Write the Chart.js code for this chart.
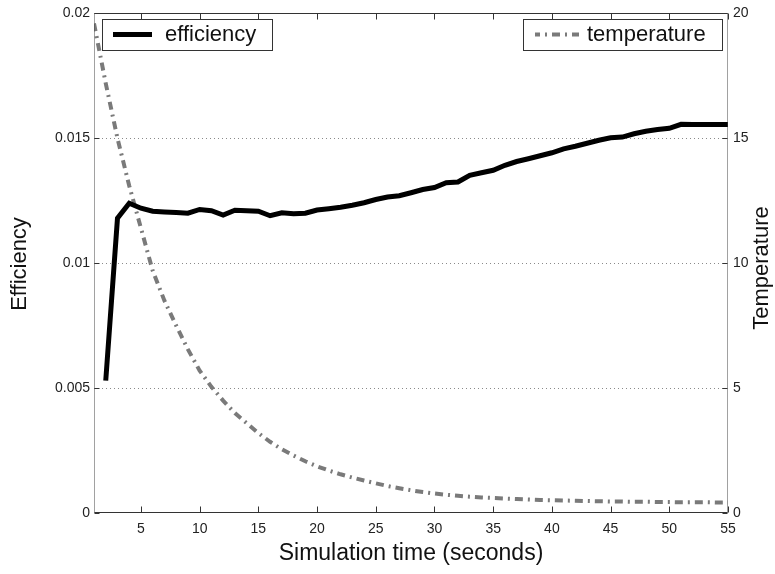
<!DOCTYPE html>
<html>
<head>
<meta charset="utf-8">
<script src="https://cdn.jsdelivr.net/npm/chart.js@4/dist/chart.umd.min.js"></script>
<style>
  html, body { margin: 0; padding: 0; background: #fff; }
  #wrap { width: 775px; height: 574px; position: relative; }
</style>
</head>
<body>
<div id="wrap"><canvas id="c" width="775" height="574"></canvas></div>
<script>
// Simulation time steps (seconds)
const efficiencyTime = [2,3,4,5,6,7,8,9,10,11,12,13,14,15,16,17,18,19,20,21,22,23,24,25,26,27,28,29,30,
  31,32,33,34,35,36,37,38,39,40,41,42,43,44,45,46,47,48,49,50,51,52,53,54,55];
const efficiency = [0.0053,0.0118,0.0124,0.0122,0.01208,0.01205,0.01203,0.012,0.01215,0.0121,0.01193,
  0.01212,0.0121,0.01208,0.0119,0.01202,0.01198,0.012,0.01213,0.01218,0.01224,0.01232,0.01242,0.01255,
  0.01265,0.0127,0.01282,0.01295,0.01303,0.01322,0.01325,0.01352,0.01362,0.01372,0.01392,0.01407,0.01418,
  0.0143,0.01442,0.01458,0.01468,0.0148,0.01492,0.01502,0.01505,0.01518,0.01528,0.01535,0.0154,0.01556,
  0.01555,0.01555,0.01555,0.01555];

const temperatureTime = [1,2,3,4,5,6,7,8,9,10,11,12,13,14,15,16,17,18,19,20,21,22,23,24,25,26,27,28,29,30,
  31,32,33,34,35,36,37,38,39,40,41,42,43,44,45,46,47,48,49,50,51,52,53,54,55];
const temperature = [19.6,17.2,15.0,13.1,11.4,9.7,8.5,7.5,6.55,5.7,5.05,4.5,4.0,3.6,3.2,2.85,2.55,2.3,
  2.07,1.87,1.7,1.55,1.42,1.3,1.19,1.08,0.99,0.91,0.84,0.78,0.73,0.69,0.65,0.62,0.6,0.58,0.56,0.54,
  0.52,0.51,0.5,0.49,0.48,0.47,0.46,0.46,0.45,0.45,0.44,0.44,0.43,0.43,0.43,0.42,0.42];

const timeTicks = [5,10,15,20,25,30,35,40,45,50,55];
const efficiencyTicks = [0,0.005,0.01,0.015,0.02];
const temperatureTicks = [0,5,10,15,20];

const FONT = "'Liberation Sans', Arial, Helvetica, sans-serif";
const INK = '#111';
const TEMP_COLOR = '#7a7a7a';
const TEMP_DASH = [8,5,2,5];

function fixedTicks(values) {
  return function (scale) { scale.ticks = values.map(v => ({ value: v })); };
}

// grid, frame and inward tick marks around the plot area
const framePlugin = {
  id: 'frame',
  beforeDatasetsDraw(chart) {
    const { ctx, chartArea: a, scales } = chart;
    ctx.save();
    ctx.strokeStyle = '#8a8a8a';
    ctx.lineWidth = 1;
    ctx.setLineDash([1, 3]);
    efficiencyTicks.slice(1, -1).forEach(v => {
      const y = Math.round(scales.y.getPixelForValue(v)) + 0.5;
      ctx.beginPath(); ctx.moveTo(a.left, y); ctx.lineTo(a.right, y); ctx.stroke();
    });
    ctx.restore();
  },
  afterDatasetsDraw(chart) {
    const { ctx, chartArea: a, scales } = chart;
    const L = Math.round(a.left) + 0.5, R = Math.round(a.right) - 0.5;
    const T = Math.round(a.top) + 0.5, B = Math.round(a.bottom) - 0.5;
    ctx.save();
    ctx.lineWidth = 1;
    // left / right borders: dotted
    ctx.strokeStyle = '#444';
    ctx.setLineDash([1, 1]);
    ctx.beginPath(); ctx.moveTo(L, T); ctx.lineTo(L, B); ctx.stroke();
    ctx.beginPath(); ctx.moveTo(R, T); ctx.lineTo(R, B); ctx.stroke();
    // top / bottom borders: solid
    ctx.setLineDash([]);
    ctx.strokeStyle = '#333';
    ctx.beginPath(); ctx.moveTo(L, T); ctx.lineTo(R, T); ctx.stroke();
    ctx.beginPath(); ctx.moveTo(L, B); ctx.lineTo(R, B); ctx.stroke();
    // tick marks pointing into the plot
    const tl = 6;
    timeTicks.forEach(v => {
      const x = Math.round(scales.x.getPixelForValue(v)) + 0.5;
      ctx.beginPath(); ctx.moveTo(x, B); ctx.lineTo(x, B - tl); ctx.stroke();
      ctx.beginPath(); ctx.moveTo(x, T); ctx.lineTo(x, T + tl); ctx.stroke();
    });
    efficiencyTicks.forEach(v => {
      const y = Math.round(scales.y.getPixelForValue(v)) + 0.5;
      ctx.beginPath(); ctx.moveTo(L, y); ctx.lineTo(L + 5, y); ctx.stroke();
    });
    temperatureTicks.forEach(v => {
      const y = Math.round(scales.y2.getPixelForValue(v)) + 0.5;
      ctx.beginPath(); ctx.moveTo(R, y); ctx.lineTo(R - 5, y); ctx.stroke();
    });
    ctx.restore();
  },
  afterDraw(chart) {
    const { ctx, chartArea: a } = chart;
    ctx.save();
    ctx.fillStyle = INK;
    ctx.textAlign = 'center';
    ctx.textBaseline = 'middle';
    // axis titles
    ctx.font = '23px ' + FONT;
    ctx.fillText('Simulation time (seconds)', (a.left + a.right) / 2, 554);
    ctx.font = '22px ' + FONT;
    ctx.save();
    ctx.translate(20, 264); ctx.rotate(-Math.PI / 2);
    ctx.fillText('Efficiency', 0, 0);
    ctx.restore();
    ctx.save();
    ctx.translate(762, 268); ctx.rotate(-Math.PI / 2);
    ctx.fillText('Temperature', 0, 0);
    ctx.restore();

    // legend boxes, one per series
    const boxes = [
      { ds: chart.data.datasets[0], x: 102, y: 19, w: 170, h: 31, lx0: 113, lx1: 152, tx: 165 },
      { ds: chart.data.datasets[1], x: 523, y: 19, w: 199, h: 31, lx0: 535, lx1: 579, tx: 587 }
    ];
    boxes.forEach(b => {
      ctx.fillStyle = '#fff';
      ctx.fillRect(b.x, b.y, b.w, b.h);
      ctx.strokeStyle = '#333';
      ctx.lineWidth = 1;
      ctx.setLineDash([]);
      ctx.strokeRect(b.x + 0.5, b.y + 0.5, b.w, b.h);
      const cy = b.y + b.h / 2;
      ctx.strokeStyle = b.ds.borderColor;
      ctx.lineWidth = b.ds.borderWidth;
      ctx.setLineDash(b.ds.borderDash || []);
      ctx.lineDashOffset = 3;
      ctx.beginPath(); ctx.moveTo(b.lx0, cy); ctx.lineTo(b.lx1, cy); ctx.stroke();
      ctx.setLineDash([]);
      ctx.fillStyle = INK;
      ctx.font = '22px ' + FONT;
      ctx.textAlign = 'left';
      ctx.textBaseline = 'middle';
      ctx.fillText(b.ds.label, b.tx, cy);
    });
    ctx.restore();
  }
};

const chart = new Chart(document.getElementById('c'), {
  type: 'line',
  data: {
    datasets: [
      {
        label: 'efficiency',
        data: efficiencyTime.map((t, i) => ({ x: t, y: efficiency[i] })),
        borderColor: '#000',
        borderWidth: 5,
        pointRadius: 0,
        tension: 0,
        yAxisID: 'y'
      },
      {
        label: 'temperature',
        data: temperatureTime.map((t, i) => ({ x: t, y: temperature[i] })),
        borderColor: TEMP_COLOR,
        borderWidth: 4,
        borderDash: TEMP_DASH,
        pointRadius: 0,
        tension: 0,
        yAxisID: 'y2'
      }
    ]
  },
  options: {
    responsive: false,
    animation: false,
    events: [],
    layout: { padding: { top: 12, left: 0, right: 0, bottom: 0 } },
    plugins: { legend: { display: false }, tooltip: { enabled: false } },
    scales: {
      x: {
        type: 'linear',
        min: 1, max: 55,
        afterBuildTicks: fixedTicks(timeTicks),
        afterFit(s) { s.height = 61; },
        grid: { display: false, drawTicks: false },
        border: { display: false },
        ticks: { font: { family: FONT, size: 14 }, color: '#222', padding: 8, maxRotation: 0, autoSkip: false }
      },
      y: {
        type: 'linear', position: 'left',
        min: 0, max: 0.02,
        afterBuildTicks: fixedTicks(efficiencyTicks),
        afterFit(s) { s.width = 94; },
        grid: { display: false, drawTicks: false },
        border: { display: false },
        ticks: {
          font: { family: FONT, size: 14 }, color: '#222', padding: 4,
          callback: v => String(+v.toFixed(3))
        }
      },
      y2: {
        type: 'linear', position: 'right',
        min: 0, max: 20,
        afterBuildTicks: fixedTicks(temperatureTicks),
        afterFit(s) { s.width = 47; },
        grid: { display: false, drawTicks: false },
        border: { display: false },
        ticks: { font: { family: FONT, size: 14 }, color: '#222', padding: 5 }
      }
    }
  },
  plugins: [framePlugin]
});
</script>
</body>
</html>
